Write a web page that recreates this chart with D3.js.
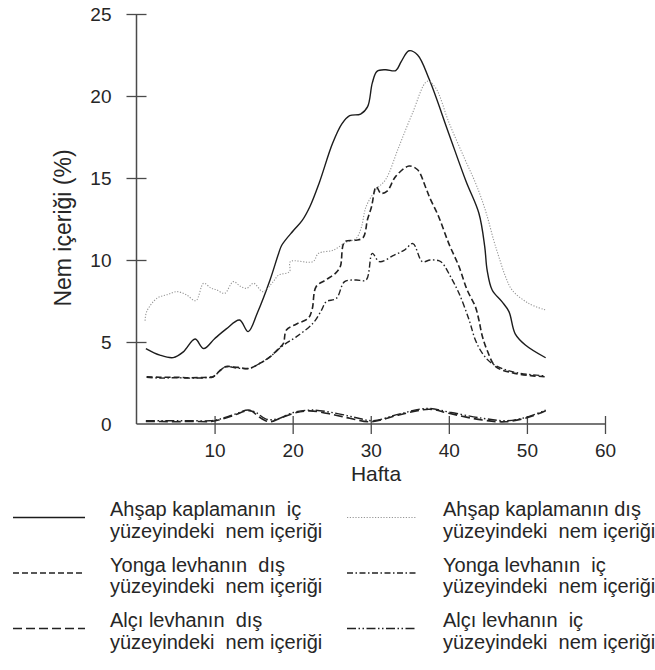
<!DOCTYPE html>
<html>
<head>
<meta charset="utf-8">
<script src="https://cdn.jsdelivr.net/npm/d3@7/dist/d3.min.js"></script>
<style>
  html, body { margin: 0; padding: 0; background: #fff; }
  svg { display: block; font-family: "Liberation Sans", Arial, sans-serif; }
</style>
</head>
<body>
<svg id="chart" width="655" height="670"></svg>
<script>
// Weekly moisture content (%) measured on wall layers: [week, value]
const ahsapIc = [
  [1.2,4.6],[3,4.2],[4.7,4.05],[6,4.4],[7.5,5.18],[8.6,4.6],[10,5.2],[11.5,5.8],
  [13.2,6.34],[14.3,5.63],[15.5,6.8],[17.1,8.78],[18.2,10.4],[18.6,10.9],[20.1,11.8],
  [21.2,12.4],[22.2,13.25],[23.4,14.7],[25.1,17.1],[26.3,18.3],[27.3,18.8],[28.7,18.9],
  [29.6,19.35],[30.2,20.8],[30.8,21.5],[31.9,21.6],[33.2,21.55],[33.9,22.1],[34.9,22.76],
  [36,22.5],[37.5,21.0],[40,17.7],[42.2,14.8],[43.85,12.85],[44.6,10.8],[44.9,9.4],
  [45.55,8.17],[46.8,7.46],[47.7,6.85],[48.5,5.5],[49.8,4.82],[52.4,4.04]
];
const ahsapDis = [
  [1.1,6.3],[1.3,6.85],[2.6,7.66],[4,7.9],[5.2,8.07],[6.4,7.87],[7.6,7.52],[8.6,8.58],
  [9.5,8.3],[10.3,8.17],[11.3,7.97],[12.4,8.68],[13.3,8.4],[14.1,8.27],[15.0,8.58],
  [16.2,8.07],[17.5,8.68],[18.2,9.08],[19.6,9.29],[19.7,9.9],[22.6,9.9],[23.3,10.4],
  [25.2,10.6],[26.9,11.1],[28.1,11.3],[28.8,12.0],[29.4,13.25],[30.7,14.3],[31.9,14.9],
  [33.6,16.9],[35.3,18.9],[37.25,20.9],[38.3,20.5],[40,18.4],[42,16.2],[43.5,14.6],
  [44.7,13.0],[45.75,11.2],[46.4,10.2],[47.25,9.0],[48.1,8.17],[50.2,7.36],[52.4,6.95]
];
const yongaDis = [
  [1.3,2.88],[3,2.85],[5,2.85],[7,2.82],[9,2.85],[9.85,2.9],[10.8,3.3],[11.5,3.5],
  [13,3.45],[14.5,3.4],[15.8,3.7],[17.1,4.1],[18.2,4.6],[18.8,4.9],[19.2,5.73],
  [20.5,6.1],[22.0,6.45],[22.5,7.0],[23.0,8.37],[24.3,8.8],[25.5,9.2],[26.1,9.6],
  [26.65,11.1],[28.0,11.2],[29.0,11.35],[29.6,12.5],[30.1,13.25],[30.7,14.47],
  [31.3,14.07],[32.1,14.2],[33.2,15.1],[34.9,15.73],[36,15.5],[37,14.47],[37.5,13.86],
  [38.7,12.64],[40,11.0],[41.3,9.6],[42.35,8.17],[43.4,7.15],[43.85,6.34],[44.3,5.33],
  [44.9,4.5],[46,3.5],[48.1,3.13],[50.5,2.95],[52.4,2.88]
];
const yongaIc = [
  [1.3,2.85],[3,2.8],[5,2.82],[7,2.8],[9,2.82],[9.85,2.88],[10.8,3.3],[11.5,3.5],
  [13,3.4],[14.5,3.4],[15.8,3.7],[17.1,4.1],[18.8,4.8],[20.5,5.33],[22.6,6.14],
  [23.7,6.95],[24.3,7.46],[25.6,7.66],[26.65,8.68],[28.1,8.78],[29.4,8.78],[30.2,10.4],
  [31.1,9.9],[33,10.3],[34.3,10.6],[35.4,11.0],[36.6,9.9],[37.6,10.0],[38.7,9.96],
  [39.2,9.8],[40.2,9.0],[41.3,7.97],[42.6,6.34],[43.4,5.12],[44.3,4.31],[45.5,3.7],
  [48.1,3.19],[52.4,2.93]
];
const alciDis = [
  [1.2,0.15],[3,0.15],[5,0.14],[7,0.16],[9.4,0.15],[10.5,0.24],[12.3,0.5],[14.1,0.8],
  [14.8,0.78],[15.5,0.5],[17.0,0.14],[18.4,0.35],[20.1,0.65],[22.2,0.8],[25.4,0.55],
  [27.3,0.35],[30,0.14],[33.6,0.55],[37.5,0.9],[40,0.65],[44.3,0.24],[47.3,0.14],
  [50.2,0.41],[52.4,0.81]
];
const alciIc = [
  [1.2,0.2],[3,0.2],[5,0.2],[7,0.2],[9.4,0.2],[10.5,0.28],[12.3,0.55],[14.3,0.85],
  [15.3,0.7],[16.6,0.3],[18.0,0.3],[20.1,0.7],[22.5,0.85],[25.6,0.65],[28,0.4],
  [30.3,0.2],[33.6,0.6],[37.2,0.95],[40.3,0.7],[44.3,0.35],[47.5,0.2],[50.2,0.45],
  [52.4,0.85]
];

const xTicks = [10, 20, 30, 40, 50, 60];
const yTicks = [0, 5, 10, 15, 20, 25];
const xTitle = "Hafta";
const yTitle = "Nem içeriği (%)";

const legendLabels = [
  ["Ahşap kaplamanın  iç", "yüzeyindeki  nem içeriği"],
  ["Ahşap kaplamanın dış", "yüzeyindeki  nem içeriği"],
  ["Yonga levhanın  dış", "yüzeyindeki  nem içeriği"],
  ["Yonga levhanın  iç", "yüzeyindeki  nem içeriği"],
  ["Alçı levhanın  dış", "yüzeyindeki  nem içeriği"],
  ["Alçı levhanın  iç", "yüzeyindeki  nem içeriği"]
];

// Line styling per series (same order as the legend)
const series = [
  { data: ahsapIc,  stroke: "#1c1c1c", width: 1.4, dash: null },
  { data: ahsapDis, stroke: "#969696", width: 1.1, dash: "1.2,1.6" },
  { data: yongaDis, stroke: "#222",    width: 1.6, dash: "6,3" },
  { data: yongaIc,  stroke: "#222",    width: 1.4, dash: "6,2.5,1.5,2.5" },
  { data: alciDis,  stroke: "#222",    width: 1.6, dash: "9,4" },
  { data: alciIc,   stroke: "#222",    width: 1.4, dash: "9,2.5,1.5,2.5,1.5,2.5" }
];

const svg = d3.select("#chart");

const x = d3.scaleLinear().domain([0, 60]).range([136.5, 605]);
const y = d3.scaleLinear().domain([0, 25]).range([424, 14]);

const axisColor = "#4a4a4a";
const textColor = "#262626";

// X axis with ticks crossing the axis line
const gx = svg.append("g")
  .attr("transform", `translate(0,${y(0)})`)
  .call(d3.axisBottom(x).tickValues(xTicks).tickSizeInner(10).tickSizeOuter(0).tickPadding(10));
gx.select(".domain").attr("stroke", axisColor).attr("stroke-width", 1.5)
  .attr("d", `M${x(0)},0H${x(60)}`);
gx.selectAll(".tick line").attr("stroke", axisColor).attr("stroke-width", 1.3).attr("y1", -8);
gx.selectAll(".tick text").attr("fill", textColor).attr("font-size", 19)
  .attr("font-family", "Liberation Sans, Arial, sans-serif").attr("y", 20).attr("dy", "0.71em");

// Y axis with ticks crossing the axis line
const gy = svg.append("g")
  .attr("transform", `translate(${x(0)},0)`)
  .call(d3.axisLeft(y).tickValues(yTicks).tickSizeInner(10).tickSizeOuter(0).tickPadding(15));
gy.select(".domain").attr("stroke", axisColor).attr("stroke-width", 1.5)
  .attr("d", `M0,${y(0)}V${y(25)}`);
gy.selectAll(".tick line").attr("stroke", axisColor).attr("stroke-width", 1.3).attr("x1", 10)
  .filter(d => d === 0).remove();
gy.selectAll(".tick text").attr("fill", textColor).attr("font-size", 19)
  .attr("font-family", "Liberation Sans, Arial, sans-serif");

// Axis titles
svg.append("text")
  .attr("x", 376).attr("y", 481)
  .attr("text-anchor", "middle")
  .attr("font-size", 21).attr("fill", textColor)
  .text(xTitle);

svg.append("text")
  .attr("transform", "translate(71,228) rotate(-90)")
  .attr("text-anchor", "middle")
  .attr("font-size", 23).attr("fill", textColor)
  .text(yTitle);

// Series lines
const line = d3.line()
  .x(d => x(d[0]))
  .y(d => y(d[1]))
  .curve(d3.curveCatmullRom.alpha(0.5));

svg.append("g").selectAll("path")
  .data(series)
  .join("path")
  .attr("d", s => line(s.data))
  .attr("fill", "none")
  .attr("stroke", s => s.stroke)
  .attr("stroke-width", s => s.width)
  .attr("stroke-dasharray", s => s.dash)
  .attr("stroke-linejoin", "round");

// Legend: two columns, three rows
const legendCols = [
  { x1: 13, x2: 85, tx: 110 },
  { x1: 347, x2: 417, tx: 443 }
];
const legendRows = [516, 571.5, 627];

const legend = svg.append("g");
series.forEach((s, i) => {
  const col = legendCols[i % 2];
  const base = legendRows[Math.floor(i / 2)];
  const g = legend.append("g");
  g.append("line")
    .attr("x1", col.x1).attr("x2", col.x2)
    .attr("y1", base + 1.5).attr("y2", base + 1.5)
    .attr("stroke", s.stroke)
    .attr("stroke-width", s.width)
    .attr("stroke-dasharray", s.dash);
  const t = g.append("text")
    .attr("x", col.tx).attr("y", base)
    .attr("font-size", 20).attr("fill", textColor)
    .attr("xml:space", "preserve")
    .style("white-space", "pre");
  t.append("tspan").attr("x", col.tx).text(legendLabels[i][0]);
  t.append("tspan").attr("x", col.tx).attr("dy", 21.5).text(legendLabels[i][1]);
});
</script>
</body>
</html>
